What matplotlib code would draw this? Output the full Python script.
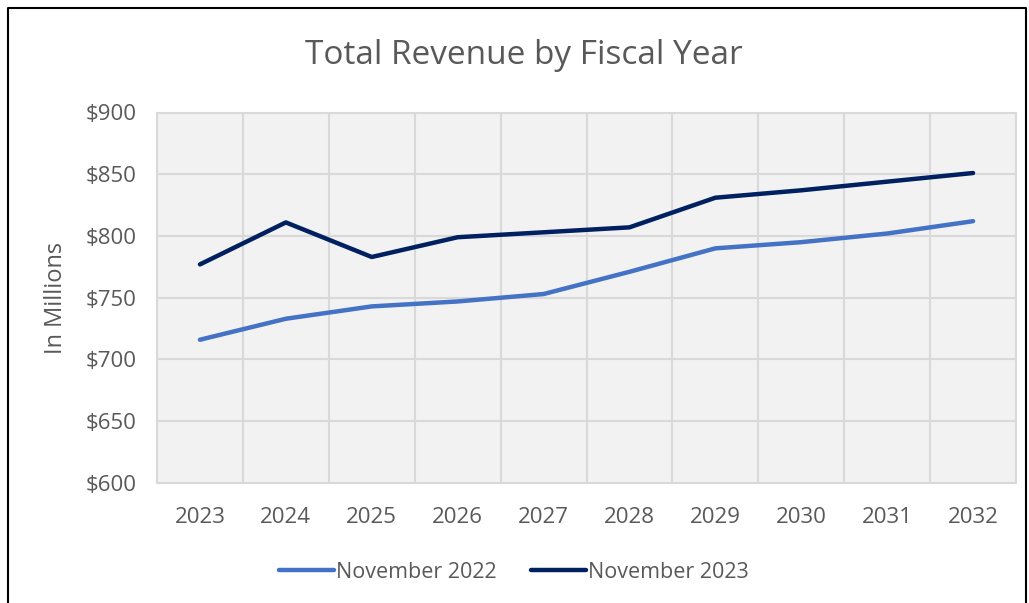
import matplotlib.pyplot as plt
from matplotlib.lines import Line2D
from matplotlib.ticker import FuncFormatter, MultipleLocator

plt.rcParams['font.family'] = ['Open Sans', 'DejaVu Sans']

years = [2023, 2024, 2025, 2026, 2027, 2028, 2029, 2030, 2031, 2032]
nov_2022 = [716, 733, 743, 747, 753, 771, 790, 795, 802, 812]
nov_2023 = [777, 811, 783, 799, 803, 807, 831, 837, 844, 851]

grey = '#595959'
gridc = '#d9d9d9'

fig = plt.figure(figsize=(10.29, 6.03), dpi=100)
ax = fig.add_axes([157 / 1029, (603 - 483) / 603, (1016 - 157) / 1029, (483 - 112.5) / 603])
ax.set_facecolor('#f2f2f2')

x = list(range(len(years)))
ax.plot(x, nov_2022, color='#4472c4', lw=3.2, solid_capstyle='round', label='November 2022', zorder=3)
ax.plot(x, nov_2023, color='#002060', lw=3.2, solid_capstyle='round', label='November 2023', zorder=3)

ax.set_xlim(-0.5, len(years) - 0.5)
ax.set_ylim(600, 900)
ax.set_xticks(x)
ax.set_xticklabels([str(y) for y in years])
ax.set_xticks([i + 0.5 for i in range(-1, len(years))], minor=True)
ax.yaxis.set_major_locator(MultipleLocator(50))
ax.yaxis.set_major_formatter(FuncFormatter(lambda v, p: '${:.0f}'.format(v)))

ax.grid(True, which='minor', axis='x', color=gridc, lw=1.5)
ax.grid(True, which='major', axis='y', color=gridc, lw=1.5)
ax.tick_params(which='both', length=0)
ax.tick_params(axis='x', pad=17, labelsize=16, colors=grey)
ax.tick_params(axis='y', pad=15, labelsize=16, colors=grey)
for s in ax.spines.values():
    s.set_color(gridc)
    s.set_linewidth(1.5)

ax.set_ylabel('In Millions', fontsize=17, color=grey, labelpad=12)
fig.text(524 / 1029, 1 - 55 / 603, 'Total Revenue by Fiscal Year', ha='center', va='center',
         fontsize=24, color=grey)

fig.legend(loc='center', bbox_to_anchor=(514 / 1029, 1 - 572 / 603), ncol=2, frameon=False,
           fontsize=15.5, handlelength=2.55, handletextpad=0.1, columnspacing=1.6,
           labelcolor=grey)

# outer border
fig.add_artist(Line2D([8 / 1029, 8 / 1029, 1026 / 1029, 1026 / 1029], [0, 1 - 8 / 603, 1 - 8 / 603, 0],
                      transform=fig.transFigure, color='black', lw=1.5))

fig.savefig('out.png', dpi=100)
